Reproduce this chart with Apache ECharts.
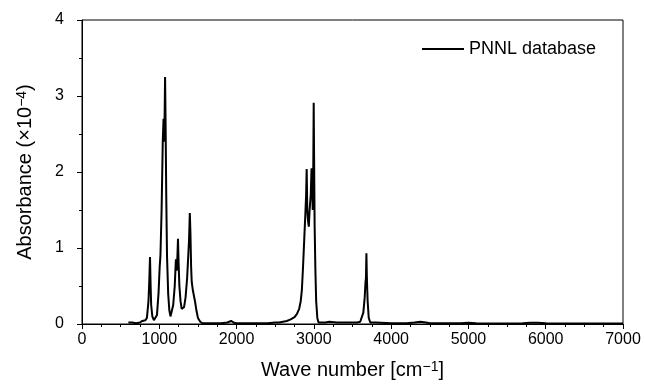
<!DOCTYPE html>
<html><head><meta charset="utf-8">
<script src="https://cdn.jsdelivr.net/npm/echarts@6/dist/echarts.min.js"></script>
<style>html,body{margin:0;padding:0;background:#fff}#c{width:645px;height:388px}</style>
</head><body><div id="c"></div>
<script>
const wavenumber = [600,650,700,750,780,800,820,840,860,870,880,888,895,910,930,950,970,990,1005,1015,1030,1045,1055,1065,1075,1082,1090,1100,1115,1130,1145,1160,1180,1200,1215,1225,1235,1242,1250,1260,1275,1290,1305,1320,1340,1360,1375,1385,1395,1403,1412,1420,1435,1450,1462,1480,1500,1530,1560,1600,1700,1800,1880,1930,1960,2000,2100,2200,2300,2400,2500,2550,2600,2650,2700,2750,2780,2810,2830,2845,2860,2875,2890,2900,2907,2915,2925,2935,2945,2960,2970,2978,2985,2992,2998,3003,3010,3020,3030,3045,3060,3100,3150,3200,3300,3400,3500,3560,3600,3640,3658,3668,3674,3680,3686,3696,3710,3730,3800,4000,4200,4300,4380,4450,4500,4700,4900,5000,5100,5500,5700,5800,5900,6000,6300,6600,7000];
const absorbance = [0.02,0.02,0.01,0.02,0.04,0.06,0.05,0.08,0.3,0.55,0.88,0.5,0.25,0.1,0.05,0.05,0.12,0.4,0.75,0.9,1.5,2.4,2.7,2.4,3.25,2.6,1.7,0.9,0.4,0.18,0.1,0.12,0.25,0.5,0.85,0.7,0.9,1.12,0.8,0.5,0.3,0.2,0.19,0.22,0.35,0.6,0.9,1.1,1.46,1.2,0.75,0.55,0.44,0.45,0.3,0.18,0.08,0.03,0.01,0.01,0.01,0.01,0.02,0.04,0.02,0.01,0.01,0.01,0.01,0.01,0.02,0.02,0.03,0.04,0.06,0.09,0.13,0.2,0.3,0.45,0.75,1.1,1.45,1.7,2.04,1.5,1.35,1.28,1.5,1.7,2.05,1.9,1.5,2.0,2.91,2.2,1.3,0.7,0.3,0.08,0.02,0.02,0.02,0.03,0.02,0.02,0.02,0.02,0.03,0.15,0.35,0.55,0.6,0.93,0.6,0.3,0.08,0.02,0.02,0.01,0.01,0.02,0.03,0.02,0.01,0.01,0.01,0.015,0.01,0.005,0.01,0.015,0.015,0.01,0.005,0.005,0.005];
const xTicks = [0,1000,2000,3000,4000,5000,6000,7000];
const yTicks = [0,1,2,3,4];
const seriesName = 'PNNL database';

const data = wavenumber.map((w,i)=>[w, absorbance[i]]);
const font = 'Liberation Sans, Arial, sans-serif';
const richName = {
  a:{fontFamily:font,fontSize:20,color:'#000'},
  s:{fontFamily:font,fontSize:14,color:'#000',verticalAlign:'top',lineHeight:14}
};
const chart = echarts.init(document.getElementById('c'), null, {renderer:'canvas'});
chart.setOption({
  animation:false,
  backgroundColor:'#fff',
  grid:{left:82,right:22,top:20,bottom:64,show:true,borderColor:'#000',borderWidth:1,backgroundColor:'transparent'},
  legend:{show:true,data:[seriesName],left:417,top:35,itemWidth:42,itemHeight:2,itemGap:8,
    icon:'rect',textStyle:{fontFamily:font,fontSize:18,color:'#000'}},
  xAxis:{type:'value',min:xTicks[0],max:xTicks[xTicks.length-1],interval:1000,
    name:'{a|Wave number [cm}{s|\u22121}{a|]}',nameLocation:'middle',nameGap:36,
    nameTextStyle:{fontFamily:font,fontSize:20,color:'#000',rich:richName},
    axisLine:{onZero:false,lineStyle:{color:'#000',width:1}},
    axisTick:{show:true,inside:false,length:5,lineStyle:{color:'#000'}},
    minorTick:{show:true,splitNumber:4,length:3,lineStyle:{color:'#000'}},
    axisLabel:{fontFamily:font,fontSize:16,color:'#000',margin:8,formatter:v=>String(v)},
    splitLine:{show:false}},
  yAxis:{type:'value',min:yTicks[0],max:yTicks[yTicks.length-1],interval:1,
    name:'{a|Absorbance (\u00D710}{s|\u22124}{a|)}',nameLocation:'middle',nameGap:47,
    nameTextStyle:{fontFamily:font,fontSize:20,color:'#000',rich:richName},
    axisLine:{show:true,lineStyle:{color:'#000',width:1}},
    axisTick:{show:true,inside:false,length:5,lineStyle:{color:'#000'}},
    minorTick:{show:true,splitNumber:2,length:3,lineStyle:{color:'#000'}},
    axisLabel:{fontFamily:font,fontSize:16,color:'#000',margin:18},
    splitLine:{show:false}},
  series:[{name:seriesName,type:'line',data:data,showSymbol:false,symbol:'none',
    lineStyle:{color:'#000',width:2},itemStyle:{color:'#000'}}]
});
</script></body></html>
